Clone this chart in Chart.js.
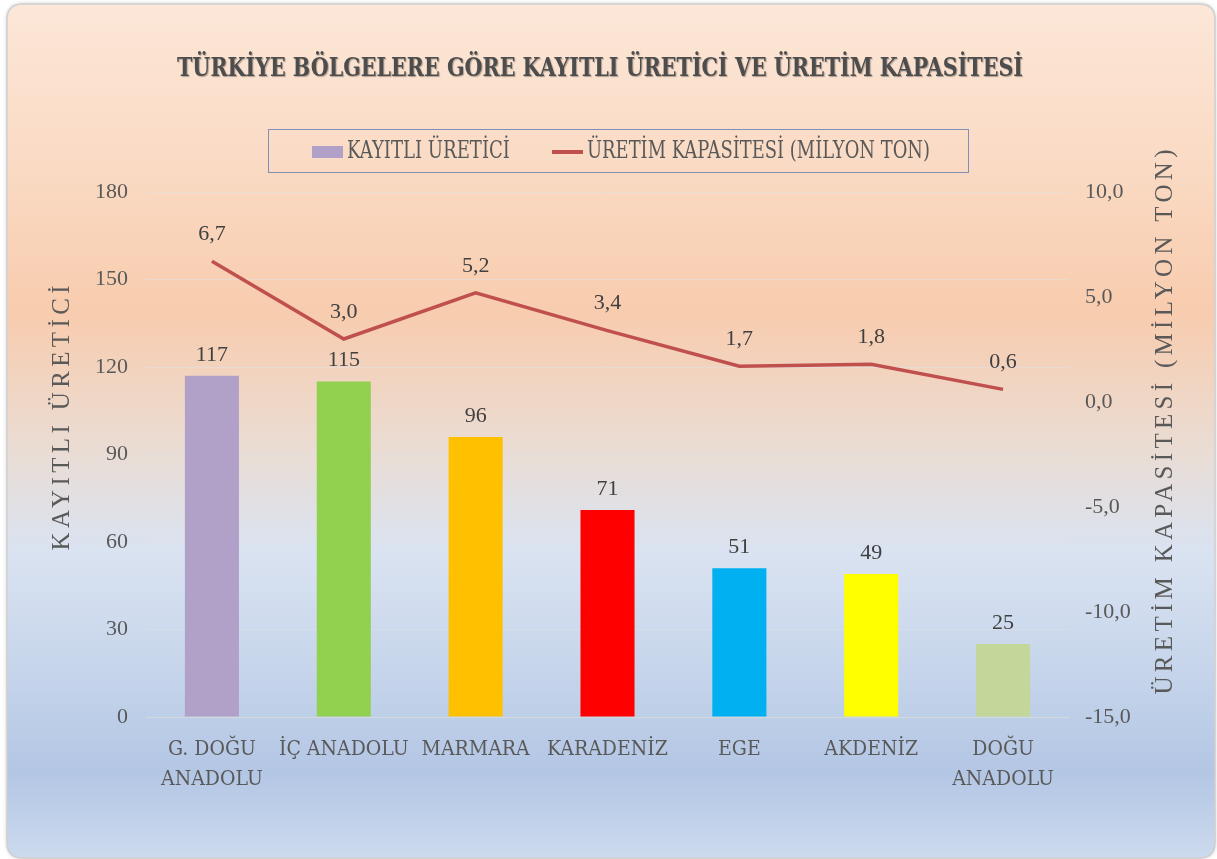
<!DOCTYPE html>
<html><head><meta charset="utf-8">
<script src="https://cdn.jsdelivr.net/npm/chart.js@4"></script>
<style>html,body{margin:0;padding:0;background:#fff;}#wrap{width:1217px;height:859px;position:relative;}</style>
</head><body><div id="wrap"><canvas id="c" width="1217" height="859"></canvas></div>
<script>
const categories = [["G. DOĞU","ANADOLU"],"İÇ ANADOLU","MARMARA","KARADENİZ","EGE","AKDENİZ",["DOĞU","ANADOLU"]];
const producers = [117,115,96,71,51,49,25];
const capacity = [6.7,3.0,5.2,3.4,1.7,1.8,0.6];
const barColors = ["#B1A0C7","#92D050","#FFC000","#FF0000","#00B0F0","#FFFF00","#C4D79B"];
const leftTicks = [0,30,60,90,120,150,180];
const rightTicks = [-15,-10,-5,0,5,10];
const titleText = "TÜRKİYE BÖLGELERE GÖRE KAYITLI ÜRETİCİ VE ÜRETİM KAPASİTESİ";
const leftTitle = "KAYITLI ÜRETİCİ";
const rightTitle = "ÜRETİM KAPASİTESİ (MİLYON TON)";
const seriesNames = ["KAYITLI ÜRETİCİ","ÜRETİM KAPASİTESİ (MİLYON TON)"];

const SERIF = "'Liberation Serif', 'DejaVu Serif', serif";
const COND = "'DejaVu Serif Condensed', 'Liberation Serif', serif";
const TXT = "#595959";

function fmt(v){ return v.toFixed(1).replace('.',','); }

// draw text left-aligned at x, horizontally scaled to a target width
function fitText(ctx, text, x, y, targetW){
  const w = ctx.measureText(text).width;
  ctx.save();
  ctx.translate(x, y);
  ctx.scale(targetW / w, 1);
  ctx.textAlign = 'left';
  ctx.fillText(text, 0, 0);
  ctx.restore();
}
function spacedText(ctx, text, cx, cy, targetW){
  ctx.letterSpacing = '0px';
  const w = ctx.measureText(text).width;
  const sp = Math.max(0,(targetW - w)/(text.length-1));
  ctx.letterSpacing = sp + 'px';
  ctx.textAlign = 'left';
  ctx.fillText(text, cx - targetW/2, cy);
  ctx.letterSpacing = '0px';
}

const bgPlugin = {
  id:'bg',
  beforeDraw(chart){
    const ctx = chart.ctx;
    ctx.save();
    ctx.fillStyle = '#ffffff';
    ctx.fillRect(0,0,chart.width,chart.height);
    const x=7,y=4,w=1208,h=854,r=16;
    ctx.shadowColor='rgba(0,0,0,0.25)'; ctx.shadowBlur=4;
    const g = ctx.createLinearGradient(0,y,0,y+h);
    g.addColorStop(0,'#FCE7D8');
    g.addColorStop(0.18,'#FADBC5');
    g.addColorStop(0.36,'#F8CCAE');
    g.addColorStop(0.52,'#EADCD3');
    g.addColorStop(0.64,'#DAE3F1');
    g.addColorStop(0.78,'#C6D5EB');
    g.addColorStop(0.9,'#B3C6E4');
    g.addColorStop(1,'#CCDAEE');
    ctx.fillStyle=g;
    ctx.beginPath();
    ctx.moveTo(x+r,y);ctx.lineTo(x+w-r,y);ctx.quadraticCurveTo(x+w,y,x+w,y+r);
    ctx.lineTo(x+w,y+h-r);ctx.quadraticCurveTo(x+w,y+h,x+w-r,y+h);
    ctx.lineTo(x+r,y+h);ctx.quadraticCurveTo(x,y+h,x,y+h-r);
    ctx.lineTo(x,y+r);ctx.quadraticCurveTo(x,y,x+r,y);ctx.closePath();
    ctx.fill();
    ctx.shadowColor='transparent';
    ctx.strokeStyle='#D0D0D0';ctx.lineWidth=1.5;ctx.stroke();
    ctx.restore();
  }
};

const decoPlugin = {
  id:'deco',
  afterDraw(chart){
    const ctx = chart.ctx;
    ctx.save();
    // title
    ctx.font = "bold 26px " + COND;
    ctx.fillStyle = '#4D4D4D';
    ctx.textBaseline='middle';
    ctx.shadowColor='rgba(0,0,0,0.3)'; ctx.shadowOffsetX=1; ctx.shadowOffsetY=1; ctx.shadowBlur=1;
    fitText(ctx, titleText, 177, 69, 846);
    ctx.shadowColor='transparent'; ctx.shadowOffsetX=0; ctx.shadowOffsetY=0; ctx.shadowBlur=0;
    // legend
    ctx.strokeStyle='#7F8FB8'; ctx.lineWidth=1;
    ctx.strokeRect(268.5,129.5,700,43);
    ctx.fillStyle = barColors[0];
    ctx.fillRect(312,146,31,12);
    ctx.font = "24px " + COND;
    ctx.fillStyle=TXT;
    fitText(ctx, seriesNames[0], 347, 152, 163);
    ctx.strokeStyle='#C0504D'; ctx.lineWidth=4;
    ctx.beginPath(); ctx.moveTo(552,152); ctx.lineTo(583,152); ctx.stroke();
    ctx.fillStyle=TXT;
    fitText(ctx, seriesNames[1], 587, 152, 343);
    // axis titles
    ctx.font = "25px " + SERIF;
    ctx.save(); ctx.translate(62,418); ctx.rotate(-Math.PI/2);
    spacedText(ctx, leftTitle, 0, 0, 265);
    ctx.restore();
    ctx.save(); ctx.translate(1165,422); ctx.rotate(-Math.PI/2);
    spacedText(ctx, rightTitle, 0, 0, 545);
    ctx.restore();
    // data labels
    ctx.font = "22px " + SERIF; ctx.fillStyle='#404040'; ctx.textAlign='center'; ctx.textBaseline='bottom';
    chart.getDatasetMeta(0).data.forEach((el,i)=>{ ctx.fillText(String(producers[i]), el.x, el.y-10); });
    chart.getDatasetMeta(1).data.forEach((el,i)=>{ ctx.fillText(fmt(capacity[i]), el.x, el.y-16); });
    ctx.restore();
  }
};

new Chart(document.getElementById('c'), {
  data:{
    labels: categories,
    datasets:[
      {type:'bar', label:seriesNames[0], data:producers, backgroundColor:barColors, yAxisID:'y', order:2,
       categoryPercentage:1.0, barPercentage:0.41},
      {type:'line', label:seriesNames[1], data:capacity, borderColor:'#C0504D', borderWidth:3.5, pointRadius:0,
       yAxisID:'y1', order:1, tension:0, fill:false}
    ]
  },
  options:{
    responsive:false, animation:false,
    layout:{padding:{left:0,right:0,top:192,bottom:0}},
    plugins:{legend:{display:false}, title:{display:false}, tooltip:{enabled:false}},
    scales:{
      x:{
        grid:{display:false, drawTicks:false},
        border:{display:true, color:'rgba(217,217,217,0.7)'},
        ticks:{color:TXT, font:{family:COND, size:21, lineHeight:1.4}, padding:18, maxRotation:0, autoSkip:false},
        afterFit(s){ s.height = 142; }
      },
      y:{
        position:'left', min:0, max:180,
        afterBuildTicks(s){ s.ticks = leftTicks.map(v=>({value:v})); },
        grid:{color:'rgba(225,225,225,0.55)', drawTicks:false},
        border:{display:false},
        ticks:{color:TXT, font:{family:SERIF, size:22}, padding:18},
        afterFit(s){ s.width = 146; }
      },
      y1:{
        position:'right', min:-15, max:10,
        afterBuildTicks(s){ s.ticks = rightTicks.map(v=>({value:v})); },
        grid:{display:false, drawTicks:false},
        border:{display:false},
        ticks:{color:TXT, font:{family:SERIF, size:22}, padding:16, callback:(v)=>fmt(v)},
        afterFit(s){ s.width = 148; }
      }
    }
  },
  plugins:[bgPlugin, decoPlugin]
});
</script></body></html>
